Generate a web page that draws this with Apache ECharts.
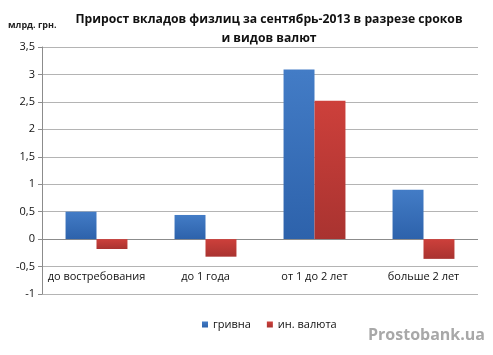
<!DOCTYPE html>
<html><head><meta charset="utf-8">
<script src="https://cdn.jsdelivr.net/npm/echarts@6/dist/echarts.min.js"></script>
<style>html,body{margin:0;padding:0;background:#fff}#c{width:493px;height:355px}</style>
</head><body><div id="c"></div>
<script>
const categories = ['до востребования', 'до 1 года', 'от 1 до 2 лет', 'больше 2 лет'];
const seriesNames = ['гривна', 'ин. валюта'];
const hryvnia = [0.5, 0.44, 3.09, 0.9];
const foreign = [-0.18, -0.32, 2.52, -0.36];
const yTicks = [-1, -0.5, 0, 0.5, 1, 1.5, 2, 2.5, 3, 3.5];

const chart = echarts.init(document.getElementById('c'), null, {renderer: 'canvas'});
const font = 'Open Sans, DejaVu Sans, sans-serif';
function grad(a, b) {
  return new echarts.graphic.LinearGradient(0, 0, 0, 1, [{offset: 0, color: a}, {offset: 1, color: b}]);
}
chart.setOption({
  animation: false,
  title: {
    text: 'Прирост вкладов физлиц за сентябрь-2013 в разрезе сроков\nи видов валют',
    left: 264, top: 5, textAlign: 'center',
    textStyle: {fontFamily: font, fontWeight: 'bold', fontSize: 12.2, lineHeight: 19, color: '#111'}
  },
  graphic: [
    {type: 'text', left: 8, top: 21, style: {text: 'млрд. грн.', font: 'bold 9px ' + font, fill: '#222'}},
    {type: 'text', right: 8, top: 327, style: {text: 'Prostobank.ua', font: 'bold 16px ' + font, fill: '#a8a8a8'}}
  ],
  legend: {
    data: seriesNames, left: 197, top: 314, itemWidth: 6, itemHeight: 6, itemGap: 16,
    icon: 'rect', textStyle: {fontFamily: font, fontSize: 11, color: '#111'}
  },
  grid: {left: 42, right: 15, top: 47, bottom: 61},
  xAxis: {
    type: 'category', data: categories, offset: -26,
    axisLine: {show: false, onZero: false},
    axisTick: {show: false},
    axisLabel: {margin: 3, fontFamily: font, fontSize: 11, color: '#111', interval: 0}
  },
  yAxis: {
    type: 'value', min: -1, max: 3.5, interval: 0.5,
    axisLine: {show: true, lineStyle: {color: '#8c8c8c'}},
    axisTick: {show: true, length: 4, lineStyle: {color: '#8c8c8c'}},
    splitLine: {lineStyle: {color: '#b4b4b4'}},
    axisLabel: {margin: 7, fontFamily: font, fontSize: 11, color: '#111',
      formatter: v => String(v).replace('.', ',')}
  },
  series: [
    {name: seriesNames[0], type: 'bar', data: hryvnia, barWidth: '28.4%', barGap: '0%',
     itemStyle: {color: grad('#437cc6', '#2d62ab')}, z: 3,
     markLine: {silent: true, symbol: 'none', label: {show: false},
       lineStyle: {color: '#8c8c8c', type: 'solid', width: 1}, data: [{yAxis: 0}], z: 1}},
    {name: seriesNames[1], type: 'bar', data: foreign, barWidth: '28.4%',
     itemStyle: {color: grad('#cd403b', '#a93330')}, z: 3}
  ]
});
</script></body></html>
